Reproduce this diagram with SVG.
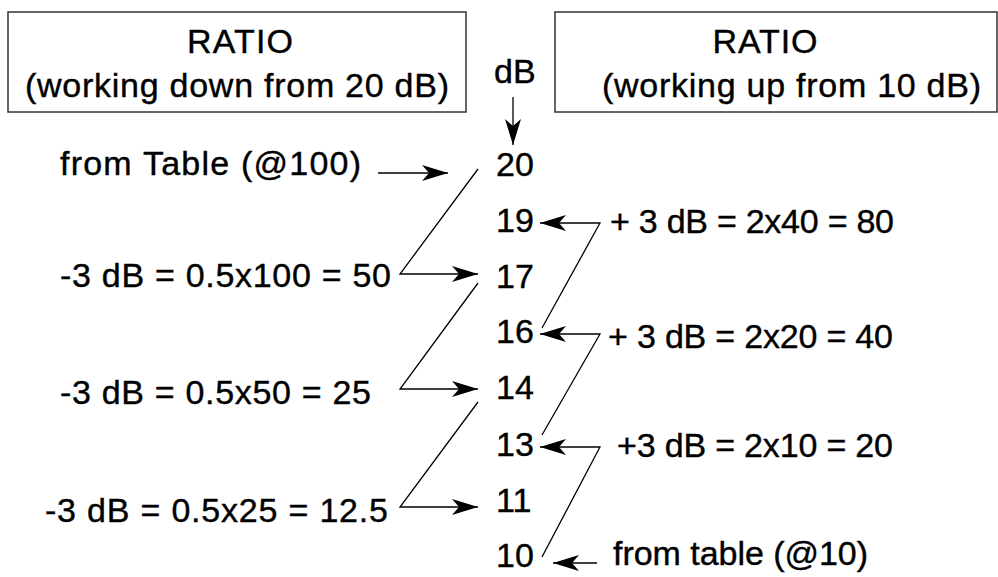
<svg xmlns="http://www.w3.org/2000/svg" width="998" height="577" viewBox="0 0 998 577">
<style>
text{font-family:"Liberation Sans",Arial,sans-serif;font-size:34px;fill:#000;stroke:#000;stroke-width:0.4}
.box{fill:#fff;stroke:#333;stroke-width:1.5}
.con{fill:none;stroke:#000;stroke-width:1.3}
</style>
<defs>
<marker id="ah" viewBox="0 0 26 16" refX="26" refY="8" markerWidth="26" markerHeight="16" markerUnits="userSpaceOnUse" orient="auto">
<path d="M0,0 L26,8 L0,16 L7,8 Z" fill="#000"/>
</marker>
</defs>
<rect width="998" height="577" fill="#fff"/>
<g id="box-left">
<rect class="box" x="8" y="12" width="458" height="100"/>
<text x="240" y="53" text-anchor="middle" textLength="106">RATIO</text>
<text x="25" y="97" textLength="424">(working down from 20 dB)</text>
</g>
<g id="box-right">
<rect class="box" x="555" y="12" width="442" height="100"/>
<text x="765" y="53" text-anchor="middle" textLength="105">RATIO</text>
<text x="602" y="97" textLength="379">(working up from 10 dB)</text>
</g>
<g id="db-header"><text x="494" y="83">dB</text></g>
<g id="n20"><text x="496" y="176">20</text></g>
<g id="n19"><text x="496" y="232">19</text></g>
<g id="n17"><text x="496" y="288">17</text></g>
<g id="n16"><text x="496" y="343">16</text></g>
<g id="n14"><text x="496" y="399">14</text></g>
<g id="n13"><text x="496" y="456">13</text></g>
<g id="n11"><text x="496" y="512">11</text></g>
<g id="n10"><text x="496" y="567">10</text></g>
<g id="l-table"><text x="60" y="175" textLength="301">from Table (@100)</text></g>
<g id="l-50"><text x="60" y="287" textLength="331">-3 dB = 0.5x100 = 50</text></g>
<g id="l-25"><text x="60" y="404" textLength="311">-3 dB = 0.5x50 = 25</text></g>
<g id="l-12"><text x="45" y="522" textLength="343">-3 dB = 0.5x25 = 12.5</text></g>
<g id="r-80"><text x="610" y="233" textLength="284">+ 3 dB = 2x40 = 80</text></g>
<g id="r-40"><text x="608" y="348" textLength="285">+ 3 dB = 2x20 = 40</text></g>
<g id="r-20"><text x="617" y="457" textLength="276">+3 dB = 2x10 = 20</text></g>
<g id="r-table"><text x="613" y="565" textLength="255">from table (@10)</text></g>
<g id="connectors">
<path class="con" d="M378,173 L448,173" marker-end="url(#ah)"/>
<path class="con" d="M513,97 L513,145" marker-end="url(#ah)"/>
<path class="con" d="M478,169 L400,274 L478,274" marker-end="url(#ah)"/>
<path class="con" d="M478,283 L400,389 L478,389" marker-end="url(#ah)"/>
<path class="con" d="M478,402 L400,507 L478,507" marker-end="url(#ah)"/>
<path class="con" d="M542,328 L600,223 L540,223" marker-end="url(#ah)"/>
<path class="con" d="M542,435 L600,334 L540,334" marker-end="url(#ah)"/>
<path class="con" d="M542,557 L600,447 L540,447" marker-end="url(#ah)"/>
<path class="con" d="M597,563 L553,563" marker-end="url(#ah)"/>
</g>
</svg>
